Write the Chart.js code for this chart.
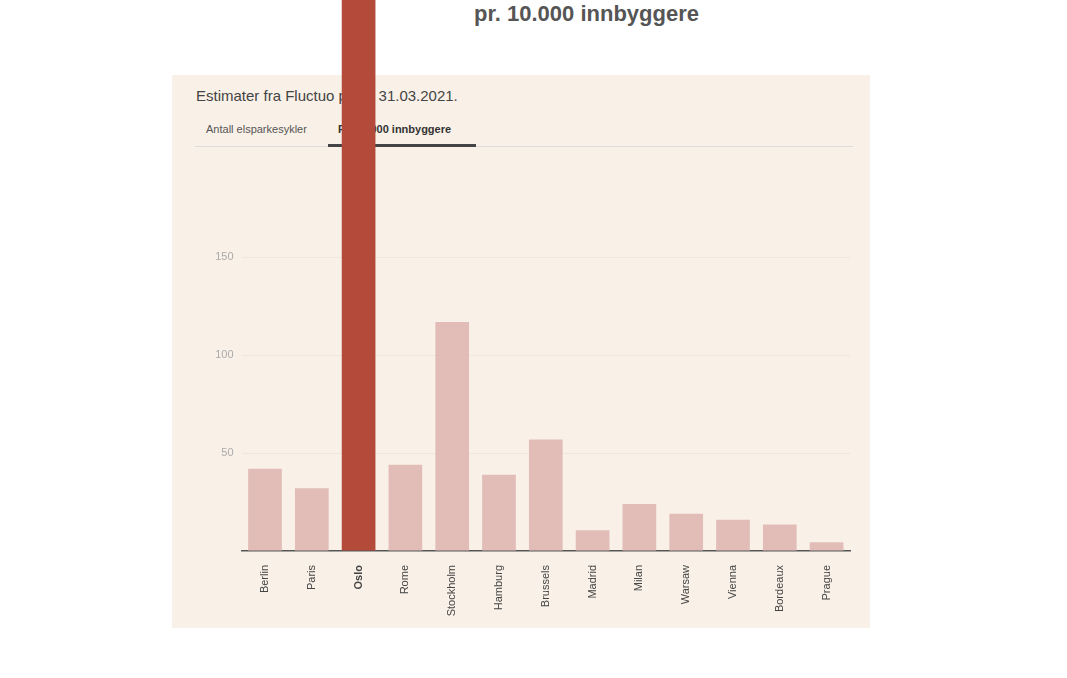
<!DOCTYPE html>
<html>
<head>
<meta charset="utf-8">
<script src="https://cdn.jsdelivr.net/npm/chart.js@4"></script>
<style>
  body { margin: 0; background: #fff; font-family: "Liberation Sans", Arial, sans-serif; }
  #wrap { position: relative; width: 1067px; height: 678px; overflow: hidden; }
  .abs { position: absolute; white-space: nowrap; }
  #panel { left: 172px; top: 75px; width: 698px; height: 553px; background: #f9f1e7; }
  #title { left: 474px; top: 1px; font-size: 22px; font-weight: bold; color: #555; }
  #sub { left: 196px; top: 87px; font-size: 15px; color: #444; }
  #tab1 { left: 206px; top: 123px; font-size: 11px; color: #555; }
  #tab2 { left: 338px; top: 123px; font-size: 11px; font-weight: bold; color: #333; }
  #rule { left: 195px; top: 146px; width: 658px; height: 1px; background: #ddd; }
  #under { left: 328px; top: 144px; width: 148px; height: 3px; background: #444; }
  canvas { position: absolute; left: 0; top: 0; }
</style>
</head>
<body>
<div id="wrap">
  <div class="abs" id="panel"></div>
  <div class="abs" id="title">pr. 10.000 innbyggere</div>
  <div class="abs" id="sub">Estimater fra Fluctuo <span style="display:inline-block;width:40px">pr.</span>31.03.2021.</div>
  <div class="abs" id="tab1">Antall elsparkesykler</div>
  <div class="abs" id="tab2">Pr. 10.000 innbyggere</div>
  <div class="abs" id="rule"></div>
  <div class="abs" id="under"></div>
  <canvas id="bar" width="1067" height="678"></canvas>
</div>
<script>
// elsparkesykler per 10 000 innbyggere
var cities = ["Berlin", "Paris", "Oslo", "Rome", "Stockholm", "Hamburg", "Brussels", "Madrid", "Milan", "Warsaw", "Vienna", "Bordeaux", "Prague"];
var perTenThousand = [42, 32, 300, 44, 117, 39, 57, 10.6, 24, 19, 16, 13.6, 4.5];
var shownTicks = [50, 100, 150];
var highlight = "Oslo";

var colors = cities.map(function (c) { return c == highlight ? "#b44a3a" : "#e2bdb8"; });

var barChart = new Chart(document.getElementById("bar"), {
    type: "bar",
    data: {
        labels: cities,
        datasets: [{
            data: perTenThousand,
            backgroundColor: colors,
            barPercentage: 0.72,
            categoryPercentage: 1,
            clip: false
        }]
    },
    options: {
        responsive: false,
        animation: false,
        layout: { padding: { left: 0, right: 217, top: 0, bottom: 0 } },
        plugins: { legend: { display: false }, tooltip: { enabled: false } },
        scales: {
            x: {
                afterFit: function (s) { s.height = 127; },
                grid: { display: false },
                border: { color: "#555", width: 1.5 },
                ticks: {
                    maxRotation: 90, minRotation: 90, padding: 6,
                    color: "#444",
                    font: function (ctx) {
                        return { family: "Liberation Sans", size: 11, weight: ctx.index == 2 ? "bold" : "normal" };
                    }
                }
            },
            y: {
                min: 0, max: 274,
                afterFit: function (s) { s.width = 241.6; },
                border: { display: false },
                grid: {
                    drawTicks: false,
                    color: function (ctx) {
                        return shownTicks.indexOf(ctx.tick.value) >= 0 ? "#efe6dc" : "rgba(0,0,0,0)";
                    }
                },
                ticks: {
                    stepSize: 50, padding: 8, color: "#aaa",
                    font: { family: "Liberation Sans", size: 11 },
                    callback: function (v) { return shownTicks.indexOf(v) >= 0 ? v : ""; }
                }
            }
        }
    }
});
</script>
</body>
</html>
